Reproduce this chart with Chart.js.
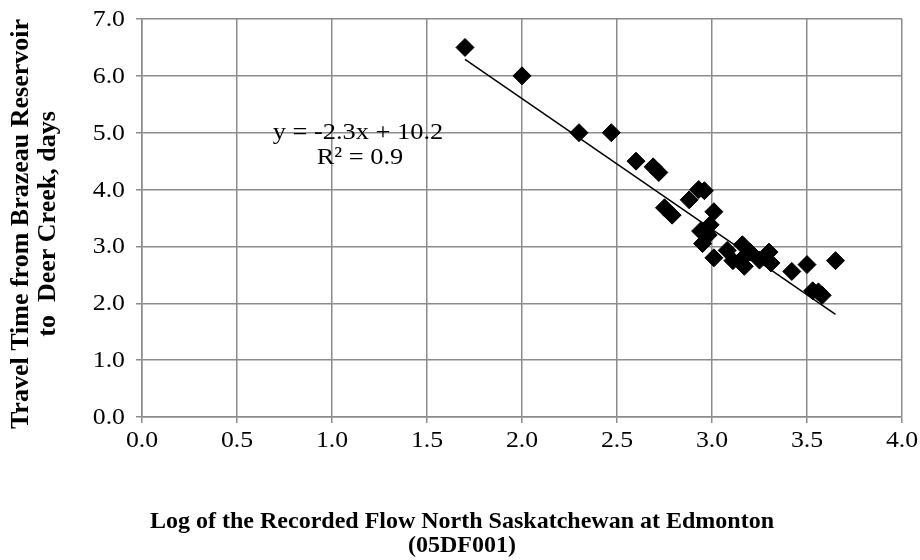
<!DOCTYPE html>
<html>
<head>
<meta charset="utf-8">
<script src="https://cdn.jsdelivr.net/npm/chart.js@4/dist/chart.umd.min.js"></script>
<style>
  html, body { margin: 0; padding: 0; background: #fff; }
  #wrap { width: 920px; height: 560px; }
</style>
</head>
<body>
<div id="wrap"><canvas id="travelChart" width="920" height="560"></canvas></div>
<script>
// log of recorded flow (05DF001) vs travel time, days
var logFlow = [1.70, 2.00, 2.30, 2.47, 2.60, 2.69, 2.72, 2.75, 2.79, 2.88, 2.93, 2.96,
               3.01, 2.94, 2.99, 2.98, 2.95, 3.01, 3.08, 3.11, 3.16, 3.17, 3.17, 3.20,
               3.25, 3.30, 3.31, 3.42, 3.50, 3.53, 3.56, 3.58, 3.65];
var travelDays = [6.50, 6.00, 5.00, 5.00, 4.50, 4.40, 4.30, 3.68, 3.55, 3.82, 4.00, 3.98,
                  3.61, 3.27, 3.38, 3.20, 3.05, 2.80, 2.93, 2.75, 3.03, 2.82, 2.65, 2.90,
                  2.76, 2.90, 2.71, 2.56, 2.68, 2.22, 2.20, 2.14, 2.75];

// linear trendline as labelled on the chart
var trendSlope = -2.3;
var trendIntercept = 10.2;
var trendLabel = ['y = -2.3x + 10.2', 'R\u00b2 = 0.9'];

var xTicks = [0, 0.5, 1, 1.5, 2, 2.5, 3, 3.5, 4];
var yTicks = [0, 1, 2, 3, 4, 5, 6, 7];
var xTitle = ['Log of the Recorded Flow North Saskatchewan at Edmonton', '(05DF001)'];
var yTitle = ['Travel Time from Brazeau Reservoir', 'to  Deer Creek, days'];

var serif = '"Liberation Serif", "Times New Roman", serif';
var gridCol = '#8c8c8c';

var points = logFlow.map(function (x, i) { return { x: x, y: travelDays[i] }; });
var xLo = Math.min.apply(null, logFlow);
var xHi = Math.max.apply(null, logFlow);
var trend = [
    { x: xLo, y: trendSlope * xLo + trendIntercept },
    { x: xHi, y: trendSlope * xHi + trendIntercept }
];

// text is a little wider than the plain font, so stretch on x
function wideText(ctx, str, x, y, sx, align) {
    ctx.save();
    ctx.translate(x, y);
    ctx.scale(sx, 1);
    ctx.textAlign = align;
    ctx.fillText(str, 0, 0);
    ctx.restore();
}

var textPlugin = {
    id: 'extraText',
    afterDraw: function (chart) {
        var ctx = chart.ctx;
        var xs = chart.scales.x, ys = chart.scales.y;
        ctx.save();
        ctx.fillStyle = '#000';
        ctx.textBaseline = 'middle';

        // tick labels, placed through the scales
        ctx.font = '23px ' + serif;
        xTicks.forEach(function (v) {
            wideText(ctx, v.toFixed(1), xs.getPixelForValue(v), 441, 1.12, 'center');
        });
        yTicks.forEach(function (v) {
            wideText(ctx, v.toFixed(1), 125, ys.getPixelForValue(v) + 1, 1.12, 'right');
        });

        // axis titles
        ctx.font = 'bold 24px ' + serif;
        wideText(ctx, xTitle[0], 462, 522, 1.0, 'center');
        wideText(ctx, xTitle[1], 462, 546, 1.0, 'center');
        ctx.font = 'bold 26px ' + serif;
        ctx.save();
        ctx.translate(21, 224);
        ctx.rotate(-Math.PI / 2);
        ctx.textAlign = 'center';
        ctx.fillText(yTitle[0], 0, 0);
        ctx.fillText(yTitle[1], 0, 27);
        ctx.restore();

        // trendline equation
        ctx.font = '24px ' + serif;
        wideText(ctx, trendLabel[0], 358, 133, 1.1, 'center');
        wideText(ctx, trendLabel[1], 360, 158, 1.1, 'center');
        ctx.restore();
    }
};

var ctx = document.getElementById('travelChart');
var myChart = new Chart(ctx, {
    type: 'scatter',
    data: {
        datasets: [
            {
                label: 'Travel time',
                data: points,
                pointStyle: 'rectRot',
                pointRadius: 9,
                pointHoverRadius: 9,
                backgroundColor: '#000',
                borderColor: '#000',
                borderWidth: 1,
                order: 2
            },
            {
                label: 'Linear',
                type: 'line',
                data: trend,
                borderColor: '#000',
                borderWidth: 1.5,
                pointRadius: 0,
                fill: false,
                order: 1
            }
        ]
    },
    options: {
        responsive: false,
        animation: false,
        events: [],
        layout: { padding: { top: 19, right: 18, left: 0, bottom: 0 } },
        plugins: {
            legend: { display: false },
            tooltip: { enabled: false }
        },
        scales: {
            x: {
                type: 'linear',
                min: 0,
                max: 4,
                afterBuildTicks: function (scale) {
                    scale.ticks = xTicks.map(function (v) { return { value: v }; });
                },
                afterFit: function (scale) { scale.height = 143; },
                grid: { color: gridCol, lineWidth: 1.5, tickLength: 6, tickColor: gridCol },
                border: { color: gridCol, width: 1.5 },
                ticks: { display: false }
            },
            y: {
                type: 'linear',
                min: 0,
                max: 7,
                afterBuildTicks: function (scale) {
                    scale.ticks = yTicks.map(function (v) { return { value: v }; });
                },
                afterFit: function (scale) { scale.width = 142; },
                grid: { color: gridCol, lineWidth: 1.5, tickLength: 6, tickColor: gridCol },
                border: { color: gridCol, width: 1.5 },
                ticks: { display: false }
            }
        }
    },
    plugins: [textPlugin]
});
ctx['_chart'] = myChart;
</script>
</body>
</html>
